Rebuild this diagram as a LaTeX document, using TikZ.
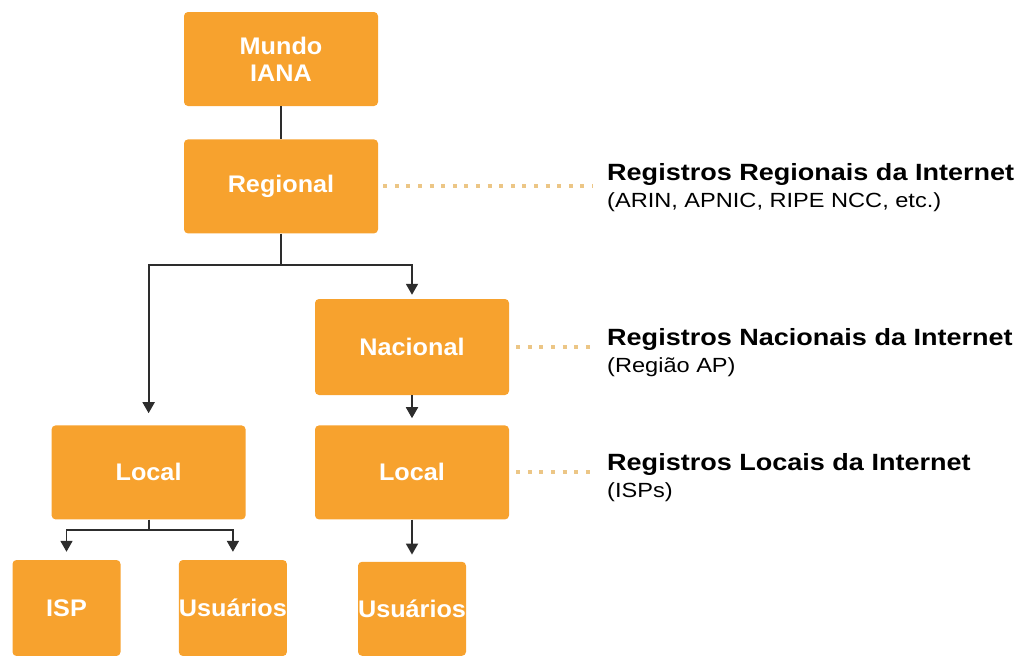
\documentclass[tikz,border=0pt]{standalone}
\usepackage{fontspec}
\setmainfont{Liberation Sans}
\newfontfamily\boxfont[FakeStretch=1.05]{Liberation Sans}
\newfontfamily\notefont[FakeStretch=1.15]{Liberation Sans}
\usetikzlibrary{positioning, arrows.meta}
\definecolor{regorange}{RGB}{247,162,46}
\definecolor{dotorange}{RGB}{236,198,134}
\definecolor{wire}{RGB}{45,45,45}
\tikzset{
x=1pt, y=1pt, % one unit is one pixel of the layout
registry/.style={fill=regorange, rounded corners=4pt, text=white, font=\boxfont\bfseries\fontsize{24}{27}\selectfont, align=center, minimum width=194pt, minimum height=94pt, inner sep=0pt}, % the orange boxes
leaf/.style={registry, minimum width=108pt, minimum height=96pt}, % the small boxes at the bottom
link/.style={wire, line width=1.8pt}, % plain connector
feed/.style={link, -{Triangle[width=12pt,length=11pt]}}, % connector with an arrow
dotline/.style={dotorange, line width=4pt, dash pattern=on 4pt off 7.6pt}, % dotted guide to the notes
note/.style={align=left, inner sep=0pt, anchor=base west, font=\notefont\fontsize{20.5}{27}\selectfont}, % the texts on the right
}
\newcommand{\notehead}[1]{{\fontsize{23.5}{27}\selectfont\bfseries #1}}

\begin{document}
\begin{tikzpicture}
        \useasboundingbox (0,0) rectangle (1021,-656);

        \node[registry] (mundo) at (281,-59) {Mundo\\IANA};
        \node[registry, below=33pt of mundo] (regional) {Regional};
        \node[registry, minimum height=96pt] (nacional) at (412,-347) {Nacional};
        \node[registry, below=30pt of nacional] (localR) {Local};
        \node[registry, left=69pt of localR] (localL) {Local};
        \node[leaf] (isp) at (66.5,-608) {ISP};
        \node[leaf, right=58pt of isp] (usuL) {Usuários};
        \node[leaf, minimum height=94pt, below=42pt of localR] (usuR) {Usuários};

        % base of a two-line note is the baseline of its second line
        \node[note] (regNote) at (607,-207) {\notehead{Registros Regionais da Internet}\\(ARIN, APNIC, RIPE NCC, etc.)};
        \node[note] (nacNote) at (607,-372) {\notehead{Registros Nacionais da Internet}\\(Região AP)};
        \node[note] (locNote) at (607,-497) {\notehead{Registros Locais da Internet}\\(ISPs)};

        \draw[dotline] ([xshift=5pt]regional.east) -- ([xshift=-14pt]regNote.west |- regional.east);
        \draw[dotline] ([xshift=7pt]nacional.east) -- ([xshift=-14pt]nacNote.west |- nacional.east);
        \draw[dotline] ([xshift=7pt]localR.east) -- ([xshift=-14pt]locNote.west |- localR.east);

        \path (regional.south) ++(0,-31) coordinate (regSplit);
        \path (localL.south) ++(0,-10) coordinate (locSplit);

        \draw[link] (mundo) -- (regional);
        \draw[feed, shorten >=12pt] (regional.south) -- (regSplit) -| (localL.north);
        \draw[feed, shorten >=4pt] (regSplit) -| (nacional.north);
        \draw[feed, shorten >=7pt] (nacional) -- (localR);
        \draw[feed, shorten >=7pt] (localR) -- (usuR);
        \draw[feed, shorten >=8pt] (localL.south) -- (locSplit) -| (isp.north);
        \draw[feed, shorten >=8pt] (locSplit) -| (usuL.north);

    \end{tikzpicture}
\end{document}
